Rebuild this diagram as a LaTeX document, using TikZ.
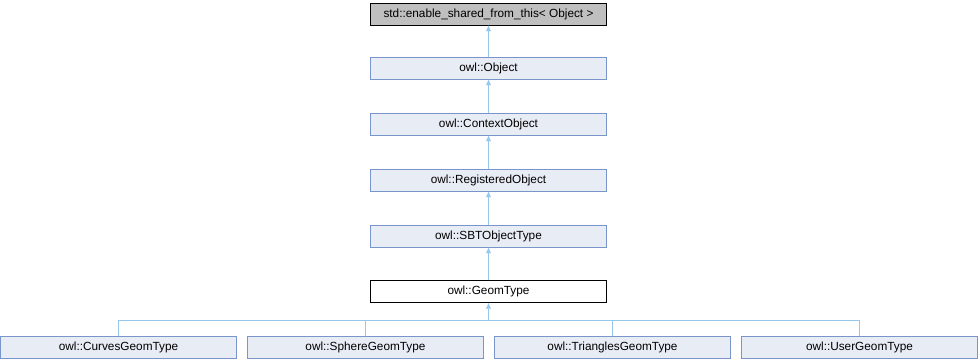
\documentclass[tikz,border=0pt]{standalone}
\usepackage{fontspec}
\setmainfont{Liberation Sans}
\usetikzlibrary{arrows.meta, positioning}

\definecolor{boxfill}{RGB}{232,236,245}
\definecolor{boxline}{RGB}{122,148,204}
\definecolor{edgeblue}{RGB}{150,200,235}

\tikzset{
  cls/.style={draw=boxline, fill=boxfill, minimum width=236pt, minimum height=22pt, inner sep=0pt, font=\fontsize{11.8}{13}\selectfont},
  extcls/.style={cls, draw=black, fill=black!25},
  curcls/.style={cls, draw=black, fill=white},
  inh/.style={draw=edgeblue, -{Latex[length=6pt,width=5pt]}},
}

\begin{document}
\begin{tikzpicture}[x=1pt, y=1pt]
\useasboundingbox (0,0) rectangle (978,-360);
% class chain
\node (base) at (488.5,-14) [extcls] {std::enable\_shared\_from\_this< Object >};
\node (obj) at (488.5,-68) [cls] {owl::Object};
\node (ctx) at (488.5,-124) [cls] {owl::ContextObject};
\node (reg) at (488.5,-180) [cls] {owl::RegisteredObject};
\node (sbt) at (488.5,-236) [cls] {owl::SBTObjectType};
\node (geom) at (488.5,-291.5) [curcls] {owl::GeomType};
% derived types
\node (curves) at (118.5,-347.5) [cls] {owl::CurvesGeomType};
\node (sphere) at (365.5,-347.5) [cls] {owl::SphereGeomType};
\node (tris) at (612.5,-347.5) [cls] {owl::TrianglesGeomType};
\node (user) at (859.5,-347.5) [cls] {owl::UserGeomType};
\coordinate (bus) at (488.5,-320);
% inheritance edges
\draw [inh] (obj) -- (base);
\draw [inh] (ctx) -- (obj);
\draw [inh] (reg) -- (ctx);
\draw [inh] (sbt) -- (reg);
\draw [inh] (geom) -- (sbt);
\draw [inh] (bus) -- (geom);
\foreach \n in {curves,sphere,tris,user}
  \draw [edgeblue] (\n.north) |- (bus);
\end{tikzpicture}
\end{document}
